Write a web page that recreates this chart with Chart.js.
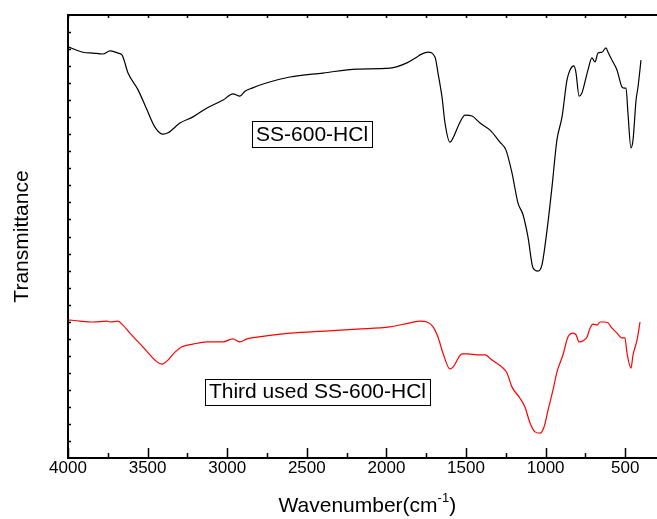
<!DOCTYPE html>
<html>
<head>
<meta charset="utf-8">
<script src="https://cdn.jsdelivr.net/npm/chart.js@4.4.1/dist/chart.umd.min.js"></script>
<style>
  html, body { margin: 0; padding: 0; background: #fff; overflow: hidden; }
  #wrap { width: 700px; height: 519px; }
</style>
</head>
<body>
<div id="wrap"><canvas id="ftir" width="700" height="519"></canvas></div>
<script>
// wavenumbers (cm-1) and transmittance (a.u.)
let wnBlack = [4000, 3906, 3843, 3780, 3736, 3686, 3661, 3623, 3560, 3504, 3454, 3403, 3372, 3297, 3215, 3127, 3026, 2964, 2920, 2888, 2844, 2750, 2606, 2398, 2185, 1978, 1871, 1808, 1789, 1739, 1695, 1676, 1651, 1632, 1601, 1582, 1538, 1506, 1462, 1412, 1349, 1287, 1249, 1211, 1174, 1142, 1111, 1079, 1048, 1023, 991, 960, 929, 897, 866, 847, 822, 809, 790, 772, 753, 734, 709, 690, 671, 646, 621, 608, 583, 552, 520, 508, 495, 483, 464, 451, 432, 420, 401];
let tBlack = [92.8, 91.6, 91.4, 91.2, 91.9, 91.4, 91.0, 86.9, 83.1, 78.6, 74.7, 73.1, 73.4, 75.6, 77.0, 79.0, 80.8, 82.2, 81.7, 82.8, 83.5, 84.7, 86.0, 86.9, 87.8, 88.0, 89.2, 90.5, 91.0, 91.6, 90.5, 86.9, 81.5, 75.6, 71.3, 72.2, 75.8, 77.4, 77.2, 75.6, 74.0, 71.3, 69.5, 64.3, 57.6, 54.9, 49.9, 42.9, 42.2, 43.6, 51.5, 61.2, 71.8, 77.0, 85.3, 87.6, 88.5, 86.9, 81.7, 82.4, 84.9, 87.6, 90.3, 89.4, 91.4, 91.6, 92.6, 91.6, 89.8, 87.6, 83.7, 83.5, 83.5, 77.9, 70.0, 71.8, 80.8, 83.7, 89.8];

let wnRed = [4000, 3925, 3843, 3755, 3736, 3686, 3655, 3611, 3530, 3441, 3410, 3372, 3328, 3284, 3215, 3127, 3026, 2964, 2920, 2876, 2813, 2606, 2367, 2185, 1978, 1852, 1789, 1745, 1707, 1676, 1645, 1601, 1582, 1525, 1488, 1431, 1381, 1337, 1274, 1243, 1211, 1161, 1130, 1098, 1067, 1035, 1010, 985, 954, 929, 891, 860, 828, 809, 790, 759, 740, 721, 702, 677, 658, 627, 608, 583, 552, 520, 502, 489, 464, 451, 426, 407];
let tRed = [31.2, 30.9, 30.7, 30.9, 30.7, 30.9, 30.0, 28.2, 25.1, 21.7, 21.2, 22.1, 23.9, 25.1, 25.7, 26.2, 26.2, 26.9, 26.2, 26.9, 27.3, 28.2, 28.7, 29.1, 29.6, 30.5, 30.9, 30.7, 29.6, 27.3, 23.7, 20.1, 20.5, 23.5, 23.5, 23.3, 23.3, 22.1, 20.5, 19.2, 16.0, 13.5, 11.5, 7.9, 5.9, 5.6, 7.0, 10.8, 15.3, 19.4, 23.3, 27.3, 28.2, 27.8, 26.2, 26.6, 27.3, 29.3, 30.2, 30.0, 30.7, 30.7, 30.5, 29.3, 28.2, 27.1, 27.1, 23.7, 20.3, 23.3, 26.6, 30.7];

let xTickLabels = [4000, 3500, 3000, 2500, 2000, 1500, 1000, 500];
let seriesNames = ["SS-600-HCl", "Third used SS-600-HCl"];

function toPoints(xs, ys) {
  return xs.map((x, i) => ({ x: x, y: ys[i] }));
}

// frame, inward ticks, tick labels, titles and the two boxed labels
const framePlugin = {
  id: "frame",
  afterDatasetsDraw(chart) {
    const ctx = chart.ctx;
    const a = chart.chartArea;
    const xs = chart.scales.x;
    const ys = chart.scales.y;
    ctx.save();
    ctx.strokeStyle = "#000";
    ctx.fillStyle = "#000";

    // ticks
    ctx.lineWidth = 1.5;
    ctx.beginPath();
    for (let v = 4000; v >= 250; v -= 250) {
      const px = Math.round(xs.getPixelForValue(v)) + 0.5;
      const len = v % 500 === 0 ? 10 : 5;
      ctx.moveTo(px, a.bottom);
      ctx.lineTo(px, a.bottom - len);
      ctx.moveTo(px, a.top);
      ctx.lineTo(px, a.top + 3);
    }
    for (let i = 1; i < 26; i++) {
      const py = Math.round(ys.getPixelForValue(i * 100 / 26)) + 0.5;
      ctx.moveTo(a.left, py);
      ctx.lineTo(a.left + 3, py);
    }
    ctx.stroke();

    // frame
    ctx.lineWidth = 2;
    ctx.strokeRect(a.left, a.top, a.right - a.left, a.bottom - a.top);

    // tick labels
    ctx.font = "17px 'Liberation Sans', Arial, sans-serif";
    ctx.textAlign = "center";
    ctx.textBaseline = "middle";
    xTickLabels.forEach((v) => {
      ctx.fillText(String(v), xs.getPixelForValue(v), a.bottom + 10);
    });

    // x title with superscript
    const cx = xs.getPixelForValue(2120);
    const ty = a.bottom + 47;
    ctx.font = "21px 'Liberation Sans', Arial, sans-serif";
    const main = "Wavenumber(cm";
    const wMain = ctx.measureText(main).width;
    ctx.font = "13px 'Liberation Sans', Arial, sans-serif";
    const wSup = ctx.measureText("-1").width;
    ctx.font = "21px 'Liberation Sans', Arial, sans-serif";
    const wEnd = ctx.measureText(")").width;
    let sx = cx - (wMain + wSup + wEnd) / 2;
    ctx.textAlign = "left";
    ctx.textBaseline = "alphabetic";
    ctx.fillText(main, sx, ty + 7);
    ctx.font = "13px 'Liberation Sans', Arial, sans-serif";
    ctx.fillText("-1", sx + wMain, ty - 3);
    ctx.font = "21px 'Liberation Sans', Arial, sans-serif";
    ctx.fillText(")", sx + wMain + wSup, ty + 7);

    // y title
    ctx.save();
    ctx.translate(22, (a.top + a.bottom) / 2);
    ctx.rotate(-Math.PI / 2);
    ctx.textAlign = "center";
    ctx.textBaseline = "middle";
    ctx.font = "21px 'Liberation Sans', Arial, sans-serif";
    ctx.fillText("Transmittance", 0, 0);
    ctx.restore();

    // boxed series labels
    const boxes = [
      { text: seriesNames[0], x: 2467, y: 73.1 },
      { text: seriesNames[1], x: 2433, y: 15.0 }
    ];
    ctx.font = "21px 'Liberation Sans', Arial, sans-serif";
    ctx.textAlign = "center";
    ctx.textBaseline = "middle";
    ctx.lineWidth = 1;
    boxes.forEach((b) => {
      const bx = xs.getPixelForValue(b.x);
      const by = ys.getPixelForValue(b.y);
      const w = ctx.measureText(b.text).width + 8;
      const h = 26;
      ctx.strokeRect(Math.round(bx - w / 2) + 0.5, Math.round(by - h / 2) + 0.5, Math.round(w), h);
      ctx.fillText(b.text, bx, by + 1);
    });
    ctx.restore();
  }
};

let ctx = document.getElementById("ftir").getContext("2d");
let chart = new Chart(ctx, {
  type: "line",
  data: {
    datasets: [
      {
        label: seriesNames[0],
        data: toPoints(wnBlack, tBlack),
        borderColor: "#000000",
        borderWidth: 1.2,
        pointRadius: 0,
        cubicInterpolationMode: "monotone",
        fill: false
      },
      {
        label: seriesNames[1],
        data: toPoints(wnRed, tRed),
        borderColor: "#ff0000",
        borderWidth: 1.2,
        pointRadius: 0,
        cubicInterpolationMode: "monotone",
        fill: false
      }
    ]
  },
  options: {
    responsive: false,
    animation: false,
    devicePixelRatio: 1,
    layout: { padding: { left: 68, top: 15, right: 27, bottom: 61 } },
    plugins: { legend: { display: false }, tooltip: { enabled: false } },
    scales: {
      x: { type: "linear", reverse: true, min: 200, max: 4000, display: false },
      y: { type: "linear", min: 0, max: 100, display: false }
    }
  },
  plugins: [framePlugin]
});
</script>
</body>
</html>
